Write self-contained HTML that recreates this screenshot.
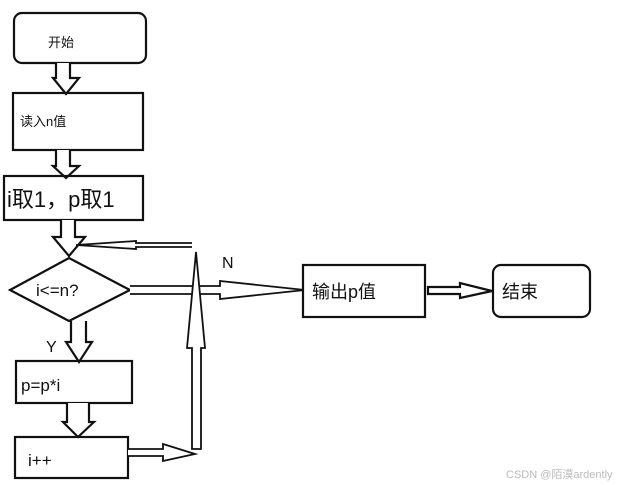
<!DOCTYPE html>
<html><head><meta charset="utf-8"><style>
body{margin:0;background:#fff;}
svg{display:block}
text{font-family:"Liberation Sans","Noto Sans CJK SC",sans-serif;fill:#111}
</style></head><body>
<svg width="619" height="485" viewBox="0 0 619 485" xmlns="http://www.w3.org/2000/svg">
<g fill="none" stroke="#111" stroke-width="2.2" stroke-linejoin="miter">
<rect x="14" y="13" width="132" height="50" rx="8"/>
<path d="M56,63 V78 H53 L66,94 L79,78 H70 V63" fill="#fff"/>
<rect x="13" y="93" width="130" height="57"/>
<path d="M56,150 V166 H53 L66,178 L79,166 H70 V150" fill="#fff"/>
<rect x="4" y="176" width="139" height="44"/>
<path d="M61,220 V237 H53 L69,256 L85,237 H75 V220" fill="#fff"/>
<path d="M192,243 H136 V241 L76,245 L136,249 V247 H192" fill="#fff" stroke-width="1.8"/>
<path d="M10,290 L69,258 L130,290 L69,321 Z" fill="#fff"/>
<path d="M130,286 H220 V281 L305,290 L220,299 V294 H130" fill="#fff" stroke-width="1.8"/>
<rect x="303" y="265" width="122" height="52" fill="#fff"/>
<path d="M428,287 H460 V283 L492,291 L460,298 V294 H428 Z" fill="#fff"/>
<rect x="493" y="265" width="97" height="52" rx="8"/>
<path d="M71,321 V342 H66 L79,362 L92,342 H86 V321" fill="#fff"/>
<rect x="16" y="361" width="116" height="42"/>
<path d="M67,403 V422 H63 L78,437 L94,422 H89 V403" fill="#fff"/>
<rect x="15" y="437" width="113" height="41"/>
<path d="M128,449 H163 V444 L195,454 L163,461 V456 H128" fill="#fff" stroke-width="1.8"/>
<path d="M192,449 V348 H187 L196,252 L205,348 H201 V449 Z" fill="#fff" stroke-width="1.8"/>
</g>
<text x="48" y="47" font-size="13">开始</text>
<text x="20" y="126" font-size="13">读入n值</text>
<text x="7" y="207" font-size="22">i取1，p取1</text>
<text x="36" y="296" font-size="17">i&lt;=n?</text>
<text x="222" y="268" font-size="16">N</text>
<text x="312" y="298" font-size="18">输出p值</text>
<text x="502" y="298" font-size="18">结束</text>
<text x="46" y="352" font-size="16">Y</text>
<text x="21" y="391" font-size="17">p=p*i</text>
<text x="28" y="466" font-size="17">i++</text>
<text x="506" y="478" font-size="11" style="fill:#bbb">CSDN @陌漠ardently</text>
</svg>
</body></html>
